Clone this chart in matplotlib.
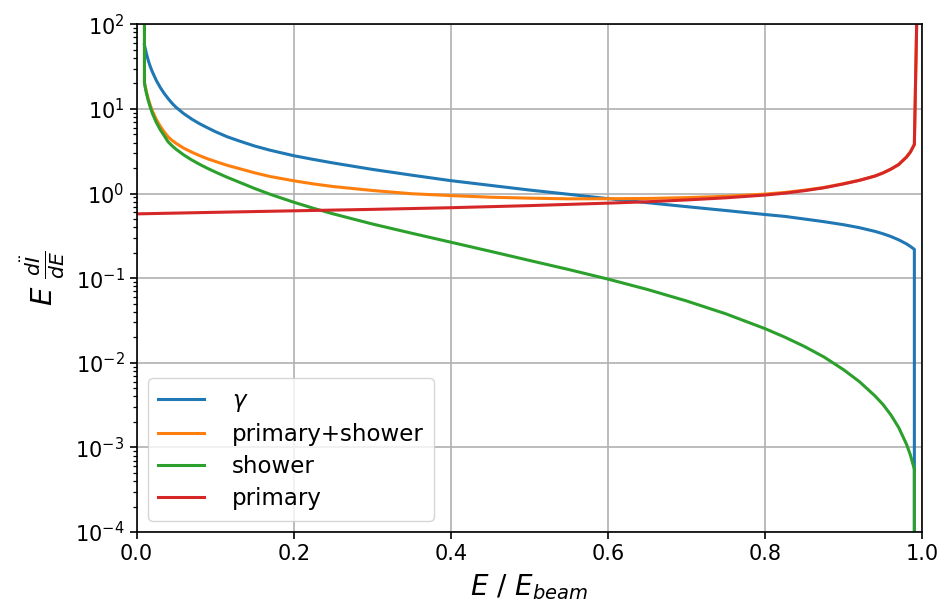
import numpy as np
import matplotlib
matplotlib.use('Agg')
import matplotlib.pyplot as plt

# common energy grid for photon / shower / sum curves
x_grid = [0.01, 0.0125, 0.015, 0.0175, 0.02, 0.025, 0.03, 0.035, 0.04, 0.045, 0.05,
          0.06, 0.07, 0.08, 0.09, 0.1, 0.115, 0.13, 0.15, 0.17, 0.2, 0.225, 0.25,
          0.3, 0.35, 0.4, 0.45, 0.5, 0.55, 0.6, 0.65, 0.7, 0.75, 0.8, 0.825, 0.85,
          0.875, 0.9, 0.92, 0.94, 0.95, 0.96, 0.97, 0.98, 0.985, 0.99]

gamma = [57, 45, 37, 31.5, 27.5, 21.8, 18, 15.3, 13.3, 11.7, 10.5,
         8.8, 7.6, 6.7, 6.0, 5.4, 4.7, 4.2, 3.65, 3.25, 2.8, 2.53, 2.3,
         1.93, 1.65, 1.42, 1.25, 1.1, 0.98, 0.87, 0.78, 0.7, 0.63, 0.565, 0.537, 0.5,
         0.465, 0.428, 0.395, 0.357, 0.335, 0.311, 0.284, 0.254, 0.237, 0.219]

shower = [20, 15.3, 12.4, 10.4, 8.9, 6.95, 5.7, 4.85, 4.1, 3.68, 3.35,
          2.86, 2.5, 2.22, 1.99, 1.8, 1.56, 1.37, 1.15, 0.98, 0.79, 0.67, 0.576,
          0.437, 0.34, 0.266, 0.208, 0.162, 0.1265, 0.0975, 0.0736, 0.0538, 0.0379, 0.0253, 0.0201, 0.0156,
          0.0117, 0.00827, 0.00599, 0.00405, 0.00322, 0.00243, 0.00172, 0.00109, 0.00081, 0.00055]

prim_shower = [20.58, 15.9, 13.0, 11.0, 9.5, 7.53, 6.28, 5.38, 4.68, 4.26, 3.93,
               3.44, 3.09, 2.81, 2.58, 2.4, 2.16, 1.98, 1.76, 1.59, 1.415, 1.3, 1.21,
               1.087, 0.995, 0.946, 0.905, 0.882, 0.866, 0.868, 0.874, 0.894, 0.928, 0.985, 1.03, 1.096,
               1.18, 1.31, 1.436, 1.614, 1.753, 1.942, 2.2, 2.7, 3.1, 3.8]

# primary electron spectrum
x_prim = [0.0, 0.1, 0.2, 0.3, 0.4, 0.5, 0.6, 0.65, 0.7, 0.75, 0.8, 0.825, 0.85,
          0.875, 0.9, 0.92, 0.94, 0.95, 0.96, 0.97, 0.98, 0.985, 0.99, 0.995]
primary = [0.575, 0.60, 0.625, 0.65, 0.68, 0.72, 0.77, 0.80, 0.84, 0.89, 0.96, 1.01, 1.08,
           1.17, 1.30, 1.43, 1.61, 1.75, 1.94, 2.2, 2.7, 3.1, 3.8, 1e3]

# end points where curves leave the frame vertically
edge_lo = 1e-6
edge_hi = 1e3

fig = plt.figure(figsize=(9.42, 6.09), dpi=100)
ax = fig.add_axes([0.145, 0.1264, 0.834, 0.8337])

lw = 2.2
ax.plot(x_grid + [x_grid[-1]], gamma + [edge_lo], color='#1f77b4', lw=lw, label=r'$\gamma$')
ax.plot([x_grid[0]] + x_grid + [0.995], [edge_hi] + prim_shower + [edge_hi], color='#ff7f0e', lw=lw,
        label='primary+shower')
ax.plot([x_grid[0]] + x_grid + [x_grid[-1]], [edge_hi] + shower + [edge_lo], color='#2ca02c', lw=lw,
        label='shower')
ax.plot(x_prim, primary, color='#d62728', lw=lw, label='primary')

ax.set_yscale('log')
ax.set_xlim(0, 1)
ax.set_ylim(1e-4, 1e2)
ax.grid(True, which='major', color='#b0b0b0', lw=1.2)
ax.tick_params(axis='both', which='major', labelsize=15, length=5.2, width=1.2)
ax.tick_params(axis='both', which='minor', length=3, width=0.9)
ax.set_xlabel(r'$E\ /\ E_{beam}$', fontsize=20, labelpad=6)
ax.set_ylabel(r'$E\ \frac{d\ddot{I}}{dE}$', fontsize=21, labelpad=6)
for s in ax.spines.values():
    s.set_linewidth(1.2)

ax.legend(loc='lower left', fontsize=16.5, handlelength=2.0, borderpad=0.45,
          labelspacing=0.4, handletextpad=1.2)

plt.savefig('out.png', dpi=100)
